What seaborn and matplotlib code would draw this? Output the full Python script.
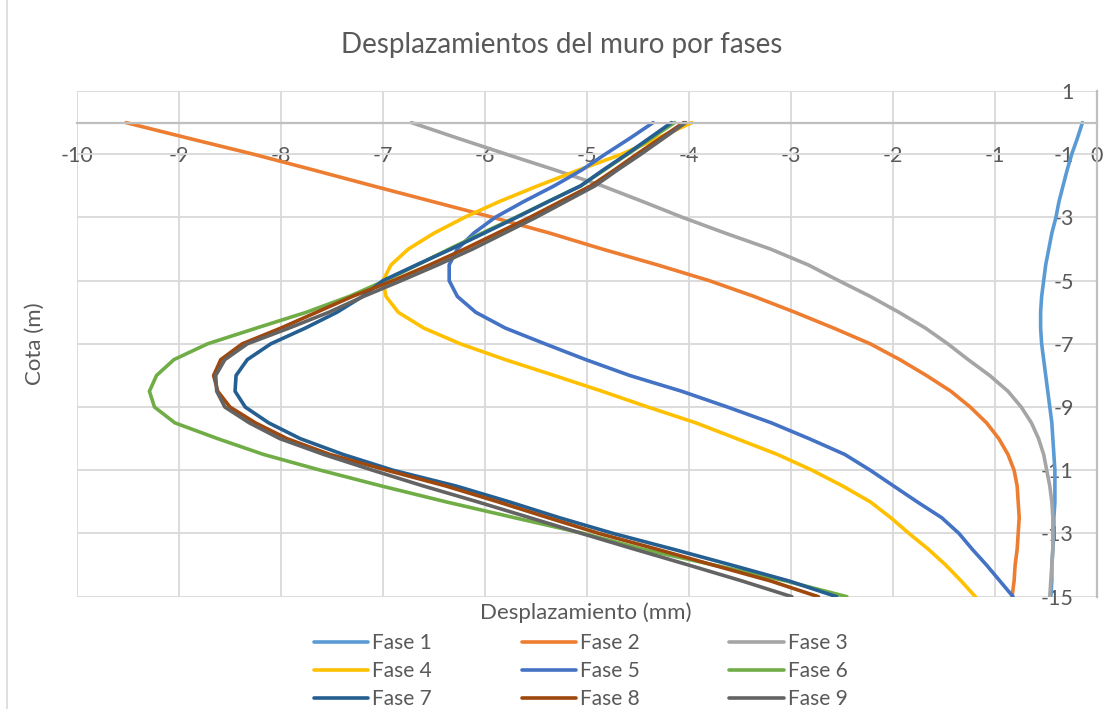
import pandas as pd
import matplotlib
matplotlib.use("Agg")
import matplotlib.pyplot as plt
import seaborn as sns
from matplotlib.lines import Line2D

# cota (m) de cada lectura
cota = [0, -0.5, -1, -1.5, -2, -2.5, -3, -3.5, -4, -4.5, -5, -5.5, -6, -6.5, -7, -7.5,
        -8, -8.5, -9, -9.5, -10, -10.5, -11, -11.5, -12, -12.5, -13, -13.5, -14, -14.5, -15]

# desplazamientos (mm) por fase
fase_1 = [-0.14, -0.19, -0.245, -0.29, -0.33, -0.37, -0.40, -0.44, -0.47, -0.50, -0.52, -0.54, -0.55, -0.55, -0.54, -0.52,
          -0.50, -0.48, -0.46, -0.44, -0.43, -0.42, -0.41, -0.41, -0.41, -0.42, -0.42, -0.43, -0.44, -0.44, -0.45]
fase_2 = [-9.52, -8.90, -8.27, -7.68, -7.10, -6.51, -5.92, -5.36, -4.85, -4.31, -3.80, -3.36, -2.96, -2.58, -2.22, -1.93,
          -1.67, -1.43, -1.24, -1.08, -0.96, -0.87, -0.81, -0.78, -0.77, -0.76, -0.77, -0.78, -0.80, -0.81, -0.83]
fase_3 = [-6.72, -6.26, -5.79, -5.31, -4.85, -4.45, -4.06, -3.64, -3.20, -2.83, -2.53, -2.22, -1.94, -1.68, -1.46, -1.26,
          -1.05, -0.87, -0.74, -0.64, -0.57, -0.52, -0.49, -0.46, -0.44, -0.43, -0.43, -0.43, -0.44, -0.45, -0.46]
fase_4 = [-3.97, -4.31, -4.66, -5.08, -5.48, -5.86, -6.20, -6.50, -6.75, -6.92, -7.00, -6.97, -6.85, -6.60, -6.24, -5.80,
          -5.32, -4.85, -4.40, -3.93, -3.53, -3.13, -2.79, -2.49, -2.22, -2.02, -1.84, -1.65, -1.48, -1.33, -1.19]
fase_5 = [-4.35, -4.58, -4.82, -5.05, -5.32, -5.62, -5.90, -6.11, -6.27, -6.35, -6.35, -6.27, -6.09, -5.80, -5.41, -5.01,
          -4.58, -4.07, -3.62, -3.19, -2.82, -2.47, -2.22, -1.99, -1.76, -1.52, -1.35, -1.22, -1.08, -0.95, -0.82]
fase_6 = [-4.14, -4.37, -4.60, -4.83, -5.06, -5.38, -5.70, -6.03, -6.35, -6.66, -6.98, -7.33, -7.75, -8.24, -8.72, -9.05,
          -9.22, -9.29, -9.24, -9.04, -8.62, -8.17, -7.61, -7.01, -6.38, -5.71, -5.03, -4.45, -3.75, -3.05, -2.45]
fase_7 = [-4.17, -4.39, -4.61, -4.84, -5.06, -5.38, -5.69, -6.01, -6.33, -6.67, -7.00, -7.20, -7.45, -7.76, -8.10, -8.33,
          -8.44, -8.45, -8.35, -8.12, -7.81, -7.39, -6.90, -6.28, -5.76, -5.27, -4.74, -4.15, -3.58, -3.02, -2.55]
fase_8 = [-4.05, -4.28, -4.51, -4.73, -4.96, -5.26, -5.56, -5.88, -6.20, -6.54, -6.90, -7.30, -7.65, -8.00, -8.38, -8.59,
          -8.66, -8.62, -8.50, -8.25, -7.94, -7.52, -6.96, -6.38, -5.87, -5.38, -4.88, -4.31, -3.76, -3.20, -2.73]
fase_9 = [-4.03, -4.25, -4.47, -4.70, -4.92, -5.21, -5.50, -5.81, -6.12, -6.46, -6.82, -7.19, -7.53, -7.92, -8.33, -8.55,
          -8.64, -8.63, -8.55, -8.31, -8.01, -7.58, -7.10, -6.60, -6.07, -5.56, -5.05, -4.53, -4.00, -3.48, -2.99]

fases = ["Fase 1", "Fase 2", "Fase 3", "Fase 4", "Fase 5", "Fase 6", "Fase 7", "Fase 8", "Fase 9"]
series = [fase_1, fase_2, fase_3, fase_4, fase_5, fase_6, fase_7, fase_8, fase_9]
colores = ["#5B9BD5", "#ED7D31", "#A5A5A5", "#FFC000", "#4472C4",
           "#70AD47", "#255E91", "#9E480E", "#636363"]

x_ticks = list(range(-10, 1))
y_ticks = list(range(1, -16, -2))

# tabla larga para seaborn
filas = []
for nombre, valores in zip(fases, series):
    for c, d in zip(cota, valores):
        filas.append({"fase": nombre, "cota": c, "desp": d})
df = pd.DataFrame(filas)

sns.set_theme(style="white")
plt.rcParams["font.family"] = ["Lato", "DejaVu Sans"]
plt.rcParams["axes.unicode_minus"] = False
gris_txt = "#595959"

fig = plt.figure(figsize=(11.17, 7.09), dpi=100)
ax = fig.add_axes([77 / 1117, 1 - 596.7 / 709, 1019.7 / 1117, 505.7 / 709])

sns.lineplot(data=df, x="desp", y="cota", hue="fase", palette=colores,
             sort=False, estimator=None, linewidth=2.6, legend=False, ax=ax)
for ln in ax.get_lines():
    ln.set_solid_joinstyle("round")
    ln.set_solid_capstyle("round")

ax.set_xlim(-10, 0)
ax.set_ylim(-15, 1)
ax.set_xticks(x_ticks)
ax.set_yticks(y_ticks)
ax.grid(True, color="#D9D9D9", linewidth=1.3)
ax.set_axisbelow(True)

for s in ["top", "left"]:
    ax.spines[s].set_visible(False)
ax.spines["bottom"].set_position(("data", 0))
ax.spines["bottom"].set_color("#BFBFBF")
ax.spines["bottom"].set_linewidth(1.6)
ax.spines["right"].set_color("#BFBFBF")
ax.spines["right"].set_linewidth(1.6)

ax.tick_params(axis="x", length=0, pad=17, labelsize=15.5, labelcolor=gris_txt)
ax.yaxis.set_ticks_position("right")
ax.tick_params(axis="y", length=0, pad=-16.5, labelsize=15.5, labelcolor=gris_txt)
for lbl in ax.get_yticklabels():
    lbl.set_horizontalalignment("right")
ax.set_xlabel("")
ax.set_ylabel("")

fig.text(562 / 1117, 1 - 45 / 709, "Desplazamientos del muro por fases",
         ha="center", va="center", fontsize=20, color=gris_txt)
fig.text(586 / 1117, 1 - 613 / 709, "Desplazamiento (mm)",
         ha="center", va="center", fontsize=16, color=gris_txt)
fig.text(35 / 1117, 1 - 344 / 709, "Cota (m)", rotation=90,
         ha="center", va="center", fontsize=16, color=gris_txt)

# leyenda en filas: Fase 1-3, 4-6, 7-9
orden = [0, 3, 6, 1, 4, 7, 2, 5, 8]
handles = [Line2D([], [], color=colores[i], linewidth=2.6, solid_capstyle="round") for i in orden]
labels = [fases[i] for i in orden]
leg = ax.legend(handles, labels, loc="upper center", bbox_to_anchor=(0.494, -0.072), ncol=3,
                frameon=False, fontsize=15, handlelength=2.6, handletextpad=0.2,
                columnspacing=4.3, labelspacing=0.38, borderaxespad=0, borderpad=0)
for t in leg.get_texts():
    t.set_color(gris_txt)

# borde del área del gráfico
fig.add_artist(Line2D([7 / 1117, 7 / 1117], [0, 1], color="#D9D9D9", linewidth=1.2))

fig.savefig("out.png", dpi=100)
